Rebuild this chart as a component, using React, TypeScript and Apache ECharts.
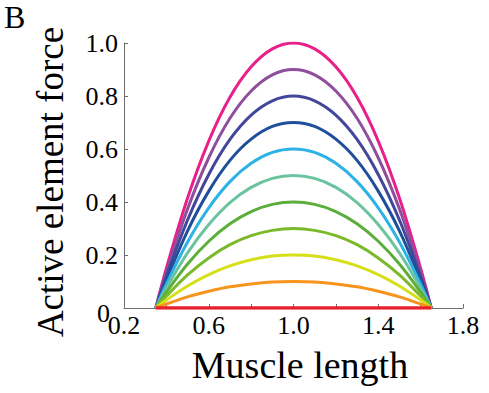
import React, { useEffect, useRef } from "react";
import * as echarts from "echarts";

const lengths = [0.35, 0.4, 0.5, 0.6, 0.7, 0.8, 0.9, 1.0, 1.1, 1.2, 1.3, 1.4, 1.5, 1.6, 1.65];

const f100 = [0, 0.15, 0.415, 0.63, 0.795, 0.91, 0.978, 1.0, 0.978, 0.91, 0.795, 0.63, 0.415, 0.15, 0];
const f90 = [0, 0.135, 0.374, 0.567, 0.716, 0.819, 0.88, 0.9, 0.88, 0.819, 0.716, 0.567, 0.374, 0.135, 0];
const f80 = [0, 0.12, 0.332, 0.504, 0.636, 0.728, 0.782, 0.8, 0.782, 0.728, 0.636, 0.504, 0.332, 0.12, 0];
const f70 = [0, 0.105, 0.291, 0.441, 0.557, 0.637, 0.685, 0.7, 0.685, 0.637, 0.557, 0.441, 0.291, 0.105, 0];
const f60 = [0, 0.09, 0.249, 0.378, 0.477, 0.546, 0.587, 0.6, 0.587, 0.546, 0.477, 0.378, 0.249, 0.09, 0];
const f50 = [0, 0.075, 0.208, 0.315, 0.398, 0.455, 0.489, 0.5, 0.489, 0.455, 0.398, 0.315, 0.208, 0.075, 0];
const f40 = [0, 0.06, 0.166, 0.252, 0.318, 0.364, 0.391, 0.4, 0.391, 0.364, 0.318, 0.252, 0.166, 0.06, 0];
const f30 = [0, 0.045, 0.125, 0.189, 0.239, 0.273, 0.293, 0.3, 0.293, 0.273, 0.239, 0.189, 0.125, 0.045, 0];
const f20 = [0, 0.03, 0.083, 0.126, 0.159, 0.182, 0.196, 0.2, 0.196, 0.182, 0.159, 0.126, 0.083, 0.03, 0];
const f10 = [0, 0.015, 0.042, 0.063, 0.08, 0.091, 0.098, 0.1, 0.098, 0.091, 0.08, 0.063, 0.042, 0.015, 0];
const f0 = [0, 0, 0, 0, 0, 0, 0, 0, 0, 0, 0, 0, 0, 0, 0];

const curves = [f100, f90, f80, f70, f60, f50, f40, f30, f20, f10, f0];
const colors = [
  "#E8218A",
  "#8E4F9C",
  "#43469A",
  "#1F4F9B",
  "#2DB2E6",
  "#6CC3A0",
  "#5BAE3A",
  "#7AB929",
  "#D7DF1A",
  "#F7941E",
  "#E8202A",
];

const xTickLabels = ["0.2", "0.6", "1.0", "1.4", "1.8"];
const yTickLabels = ["0", "0.2", "0.4", "0.6", "0.8", "1.0"];
const xTitle = "Muscle length";
const yTitle = "Active element force";
const panelLabel = "B";

const FONT = "Liberation Serif, serif";

export default function App() {
  const ref = useRef<HTMLDivElement>(null);
  useEffect(() => {
    if (!ref.current) return;
    const chart = echarts.init(ref.current, null, { renderer: "svg" });
    const axisColor = "#6e6e6e";
    chart.setOption({
      animation: false,
      backgroundColor: "#ffffff",
      textStyle: { fontFamily: FONT },
      grid: { left: 124, right: 26, top: 43, bottom: 85, containLabel: false },
      xAxis: {
        type: "value",
        min: 0.2,
        max: 1.8,
        interval: 0.2,
        axisLine: { show: true, lineStyle: { color: axisColor, width: 1 } },
        axisTick: { show: true, inside: true, length: 4, lineStyle: { color: axisColor } },
        splitLine: { show: false },
        axisLabel: {
          margin: 4,
          fontFamily: FONT,
          fontSize: 26,
          color: "#000",
          formatter: (v: number) => {
            const s = v.toFixed(1);
            return xTickLabels.indexOf(s) >= 0 ? s : "";
          },
        },
      },
      yAxis: {
        type: "value",
        min: 0,
        max: 1,
        interval: 0.2,
        axisLine: { show: true, lineStyle: { color: axisColor, width: 1 } },
        axisTick: { show: true, inside: true, length: 4, lineStyle: { color: axisColor } },
        splitLine: { show: false },
        axisLabel: {
          margin: 6,
          fontFamily: FONT,
          fontSize: 26,
          color: "#000",
          formatter: (v: number) => {
            const i = Math.round(v / 0.2);
            const t = yTickLabels[i] ?? "";
            return i === 0 ? "{z|" + t + "}" : t;
          },
          rich: {
            z: {
              fontFamily: FONT,
              fontSize: 26,
              color: "#000",
              padding: [10, 8, 0, 0],
            },
          },
        },
      },
      graphic: [
        {
          type: "text",
          left: 4,
          top: 1,
          style: { text: panelLabel, fontFamily: FONT, fontSize: 32, fill: "#000" },
        },
        {
          type: "text",
          x: 50,
          y: 182,
          rotation: Math.PI / 2,
          style: {
            text: yTitle,
            fontFamily: FONT,
            fontSize: 37,
            fill: "#000",
            align: "center",
            verticalAlign: "middle",
          },
        },
        {
          type: "text",
          x: 300,
          y: 365,
          style: {
            text: xTitle,
            fontFamily: FONT,
            fontSize: 38,
            fill: "#000",
            align: "center",
            verticalAlign: "middle",
          },
        },
      ],
      series: curves.map((vals, i) => ({
        type: "line",
        data: lengths.map((x, j) => [x, vals[j]]),
        smooth: 0.35,
        showSymbol: false,
        symbol: "none",
        lineStyle: { color: colors[i], width: i === 10 ? 3.5 : 3 },
        z: 2 + i,
      })),
    });
    return () => chart.dispose();
  }, []);
  return (
    <div
      ref={ref}
      style={{ position: "fixed", left: 0, top: 0, width: 489, height: 393, background: "#fff" }}
    />
  );
}
